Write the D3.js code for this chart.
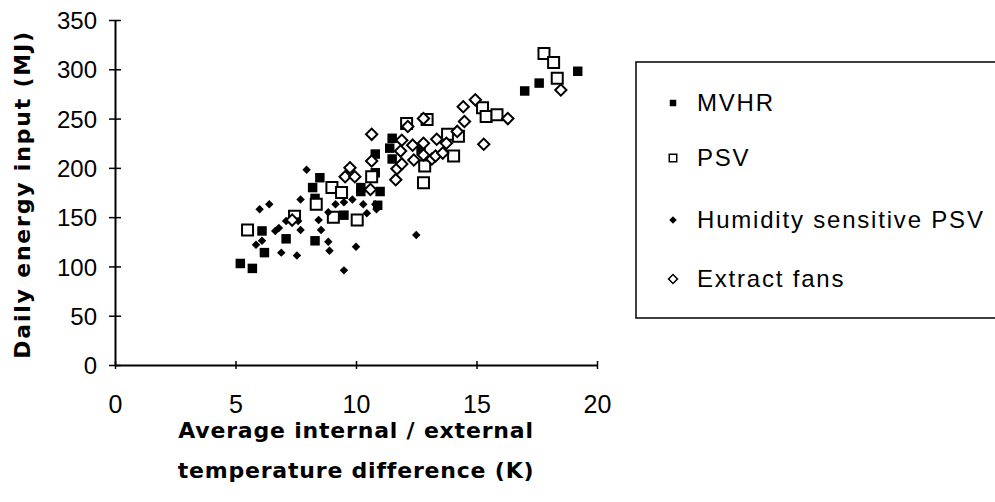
<!DOCTYPE html>
<html>
<head>
<meta charset="utf-8">
<script src="https://cdn.jsdelivr.net/npm/d3@7"></script>
<style>
  body { margin: 0; background: #fff; }
  text { font-family: "Liberation Sans", Arial, sans-serif; fill: #000; }
  .tick-label { font-size: 24px; }
  .x-label { font-size: 25px; }
  .axis-title { font-size: 22px; font-weight: bold; font-family: "DejaVu Sans", sans-serif; }
  .legend-label { font-size: 24px; letter-spacing: 1.8px; }
</style>
</head>
<body>
<div id="chart"></div>
<script>
// series: [temperature difference K, daily energy MJ]
var mvhr = [
  [5.2, 103], [5.7, 98], [6.1, 136], [6.2, 114], [7.1, 128], [8.2, 180], [8.5, 190],
  [8.3, 169], [8.3, 126], [9.5, 152], [10.2, 176], [10.2, 180], [10.8, 214], [11.4, 220],
  [11.5, 230], [11.5, 209], [10.8, 195], [11.0, 176], [10.9, 162], [12.7, 218],
  [17.0, 278], [17.6, 286], [19.2, 298]
]
var psv = [
  [5.5, 137], [7.45, 151], [8.35, 163], [9.0, 180], [9.06, 150], [9.4, 175], [10.05, 147],
  [10.65, 191], [12.1, 245], [12.95, 249], [13.8, 234], [14.25, 232], [14.05, 212],
  [12.85, 202], [12.8, 185], [15.25, 261], [15.4, 252], [15.85, 254], [17.8, 316],
  [18.2, 307], [18.35, 291]
]
var humid = [
  [5.85, 122], [6.1, 126], [6.0, 158], [6.4, 163], [6.65, 136], [6.8, 139], [6.9, 114],
  [7.1, 146], [7.55, 111], [7.7, 137], [7.6, 146], [7.7, 168], [7.95, 198], [8.45, 147],
  [8.55, 137], [8.85, 155], [8.85, 125], [8.9, 116], [9.15, 163], [9.5, 165], [9.85, 168],
  [9.5, 96], [10.0, 120], [10.3, 163], [10.45, 154], [10.8, 163], [10.85, 158], [12.5, 132]
]
var fans = [
  [7.35, 147], [9.75, 200], [9.55, 191], [9.95, 191], [10.65, 234], [10.65, 207],
  [10.6, 178], [11.65, 188], [11.7, 199], [11.9, 228], [11.9, 204], [11.85, 217],
  [12.15, 242], [12.35, 223], [12.4, 208], [12.8, 250], [12.8, 225], [12.8, 213],
  [13.15, 209], [13.3, 212], [13.35, 229], [13.6, 215], [13.75, 225], [14.2, 237],
  [14.5, 247], [14.45, 262], [14.95, 269], [15.3, 224], [16.3, 250], [18.5, 279]
]
var seriesNames = ['MVHR', 'PSV', 'Humidity sensitive PSV', 'Extract fans']
var xTicks = [0, 5, 10, 15, 20]
var yTicks = [0, 50, 100, 150, 200, 250, 300, 350]

var width = 995, height = 502
var margin = {left: 115, top: 20, right: 398, bottom: 137}

var svg = d3.select('#chart').append('svg')
  .attr('width', width).attr('height', height)

var x = d3.scaleLinear().domain([0, 20]).range([margin.left, width - margin.right])
var y = d3.scaleLinear().domain([0, 350]).range([height - margin.bottom, margin.top])

// axes
var xAxis = d3.axisBottom(x).tickValues(xTicks).tickSizeInner(0).tickSizeOuter(0).tickFormat(d3.format('d'))
var yAxis = d3.axisLeft(y).tickValues(yTicks).tickSizeInner(0).tickSizeOuter(0)

var gx = svg.append('g').attr('transform', 'translate(0,' + y(0) + ')').call(xAxis)
gx.select('.domain').attr('stroke', '#000').attr('stroke-width', 2)
gx.selectAll('.tick line').attr('y1', -4).attr('y2', 4).attr('stroke', '#000').attr('stroke-width', 1.5)
gx.selectAll('.tick text').attr('class', 'x-label').attr('y', 48).attr('dy', null)
gx.attr('font-size', null).attr('font-family', null)

var gy = svg.append('g').attr('transform', 'translate(' + x(0) + ',0)').call(yAxis)
gy.select('.domain').attr('stroke', '#000').attr('stroke-width', 2)
gy.selectAll('.tick line').attr('x1', -6).attr('x2', 6).attr('stroke', '#000').attr('stroke-width', 1.5)
gy.selectAll('.tick text').attr('class', 'tick-label').attr('x', -18).attr('dy', '0.36em')
gy.attr('font-size', null).attr('font-family', null)

// axis titles
svg.append('text').attr('class', 'axis-title')
  .attr('transform', 'translate(30,' + (y(175) + 2) + ') rotate(-90)')
  .attr('text-anchor', 'middle')
  .style('letter-spacing', '1.8px')
  .text('Daily energy input (MJ)')

var xt = svg.append('text').attr('class', 'axis-title').attr('text-anchor', 'middle')
  .style('letter-spacing', '0.8px')
xt.append('tspan').attr('x', 356).attr('y', 438).text('Average internal / external')
xt.append('tspan').attr('x', 356).attr('y', 478).text('temperature difference (K)')

// markers
var sq = function(s) { return d3.symbol(d3.symbolSquare, s)() }

function drawSeries(data, size, fill, stroke, sw, diamond) {
  svg.append('g').selectAll('path').data(data).join('path')
    .attr('d', sq(size))
    .attr('transform', d => 'translate(' + x(d[0]) + ',' + y(d[1]) + ')' + (diamond ? ' rotate(45)' : ''))
    .attr('fill', fill).attr('stroke', stroke).attr('stroke-width', sw)
}

drawSeries(mvhr, 90, '#000', 'none', 0, false)
drawSeries(psv, 121, '#fff', '#000', 2, false)
drawSeries(humid, 36, '#000', 'none', 0, true)
drawSeries(fans, 64, '#fff', '#000', 2, true)

// legend
var legend = svg.append('g')
legend.append('rect').attr('x', 636).attr('y', 62).attr('width', 380).attr('height', 256)
  .attr('fill', 'none').attr('stroke', '#000').attr('stroke-width', 1.5)

var legendY = [102, 157, 219, 278]
var legendStyle = [
  {size: 42, fill: '#000', stroke: 'none', sw: 0, diamond: false},
  {size: 56, fill: '#fff', stroke: '#000', sw: 1.5, diamond: false},
  {size: 28, fill: '#000', stroke: 'none', sw: 0, diamond: true},
  {size: 40, fill: '#fff', stroke: '#000', sw: 1.5, diamond: true}
]
seriesNames.forEach(function(name, i) {
  var st = legendStyle[i]
  legend.append('path').attr('d', sq(st.size))
    .attr('transform', 'translate(673,' + (legendY[i] + 1) + ')' + (st.diamond ? ' rotate(45)' : ''))
    .attr('fill', st.fill).attr('stroke', st.stroke).attr('stroke-width', st.sw)
  legend.append('text').attr('class', 'legend-label')
    .attr('x', 697).attr('y', legendY[i]).attr('dy', '0.36em')
    .text(name)
})
</script>
</body>
</html>
